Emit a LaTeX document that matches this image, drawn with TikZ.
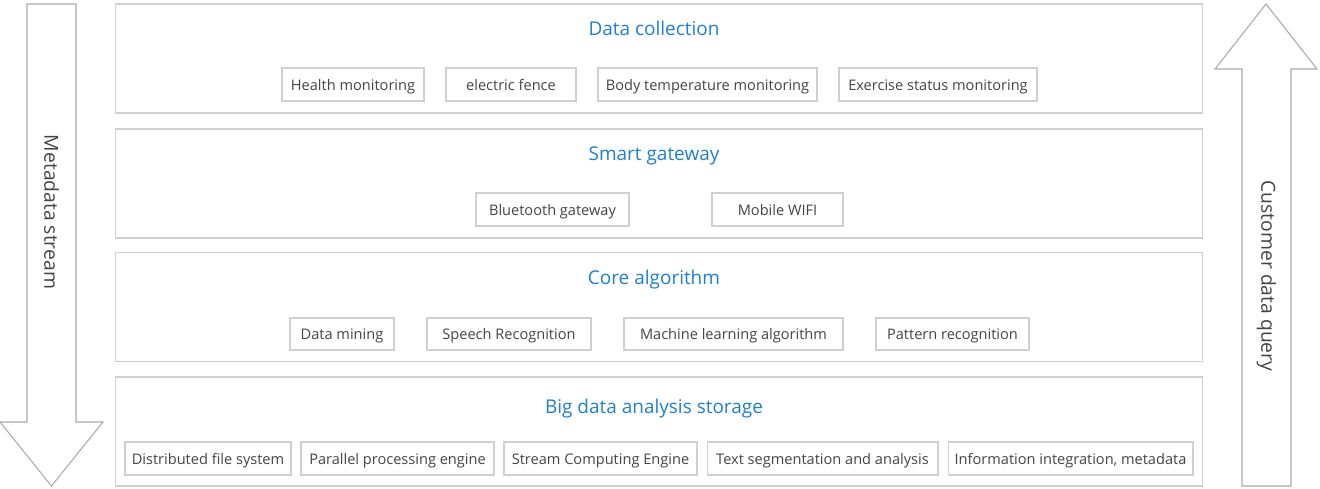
\documentclass[tikz,border=0pt]{standalone}
\usepackage{fontspec}
\setmainfont{Open Sans}
\usepackage{tikz}
\usetikzlibrary{positioning}
\definecolor{framegray}{RGB}{208,208,208}
\definecolor{arrowgray}{RGB}{170,170,170}
\definecolor{textgray}{RGB}{68,68,68}
\definecolor{titleblue}{RGB}{30,128,210}
\begin{document}
\begin{tikzpicture}[x=0.02cm, y=-0.02cm,
  layer/.style={draw=framegray, line width=0.6pt, minimum width=21.76cm, minimum height=2.18cm, inner sep=0},
  title/.style={text=titleblue, font=\fontsize{10.8}{13}\selectfont, text height=1.6ex, text depth=0.4ex},
  item/.style={draw=framegray, line width=0.6pt, text=textgray, font=\fontsize{8.3}{10}\selectfont, text height=1.6ex, text depth=0.4ex, minimum height=0.66cm, inner sep=0},
  flow/.style={draw=arrowgray, line width=0.6pt, line join=miter},
  flowtext/.style={text=textgray, font=\fontsize{11}{13}\selectfont, rotate=-90}]
\useasboundingbox (0,0) rectangle (1320,488);
% layers
\node[layer] (collect) at (659,58.5) {};
\node[layer] (gateway) at (659,183.5) {};
\node[layer] (algo) at (659,307) {};
\node[layer] (storage) at (659,431.5) {};
\node[title] (collectT) at (654,29.5) {Data collection};
\node[title] (gatewayT) at (654,154.5) {Smart gateway};
\node[title] (algoT) at (654,278.5) {Core algorithm};
\node[title] (storageT) at (654,407.5) {Big data analysis storage};
% data collection
\node[item, minimum width=2.84cm] (health) at (353,84.5) {Health monitoring};
\node[item, minimum width=2.6cm] (fence) at (511,84.5) {electric fence};
\node[item, minimum width=4.38cm] (bodytemp) at (707.5,84.5) {Body temperature monitoring};
\node[item, minimum width=3.96cm] (exercise) at (938,84.5) {Exercise status monitoring};
% smart gateway
\node[item, minimum width=3.06cm] (bluetooth) at (552.5,209.5) {Bluetooth gateway};
\node[item, minimum width=2.62cm] (wifi) at (777.5,209.5) {Mobile WIFI};
% core algorithm
\node[item, minimum width=2.08cm, minimum height=0.64cm] (mining) at (342,334) {Data mining};
\node[item, minimum width=3.28cm, minimum height=0.64cm] (speech) at (509,334) {Speech Recognition};
\node[item, minimum width=4.38cm, minimum height=0.64cm] (mlearn) at (733.5,334) {Machine learning algorithm};
\node[item, minimum width=3.06cm, minimum height=0.64cm] (pattern) at (952.5,334) {Pattern recognition};
% storage
\node[item, minimum width=3.32cm] (dfs) at (208,458.5) {Distributed file system};
\node[item, minimum width=3.86cm] (parallel) at (397.5,458.5) {Parallel processing engine};
\node[item, minimum width=3.86cm] (streameng) at (600.5,458.5) {Stream Computing Engine};
\node[item, minimum width=4.62cm] (textseg) at (822.5,458.5) {Text segmentation and analysis};
\node[item, minimum width=4.9cm] (info) at (1070.5,458.5) {Information integration, metadata};
% side arrows
\draw[flow] (27,4) -- (76,4) -- (76,422) -- (103,422) -- (51.5,486) -- (0,422) -- (27,422) -- cycle;
\node[flowtext] (metaflow) at (51.5,212) {Metadata stream};
\draw[flow] (1242,486) -- (1291,486) -- (1291,69) -- (1317,69) -- (1266,4) -- (1215,69) -- (1242,69) -- cycle;
\node[flowtext] (query) at (1266.5,276) {Customer data query};
\end{tikzpicture}
\end{document}
